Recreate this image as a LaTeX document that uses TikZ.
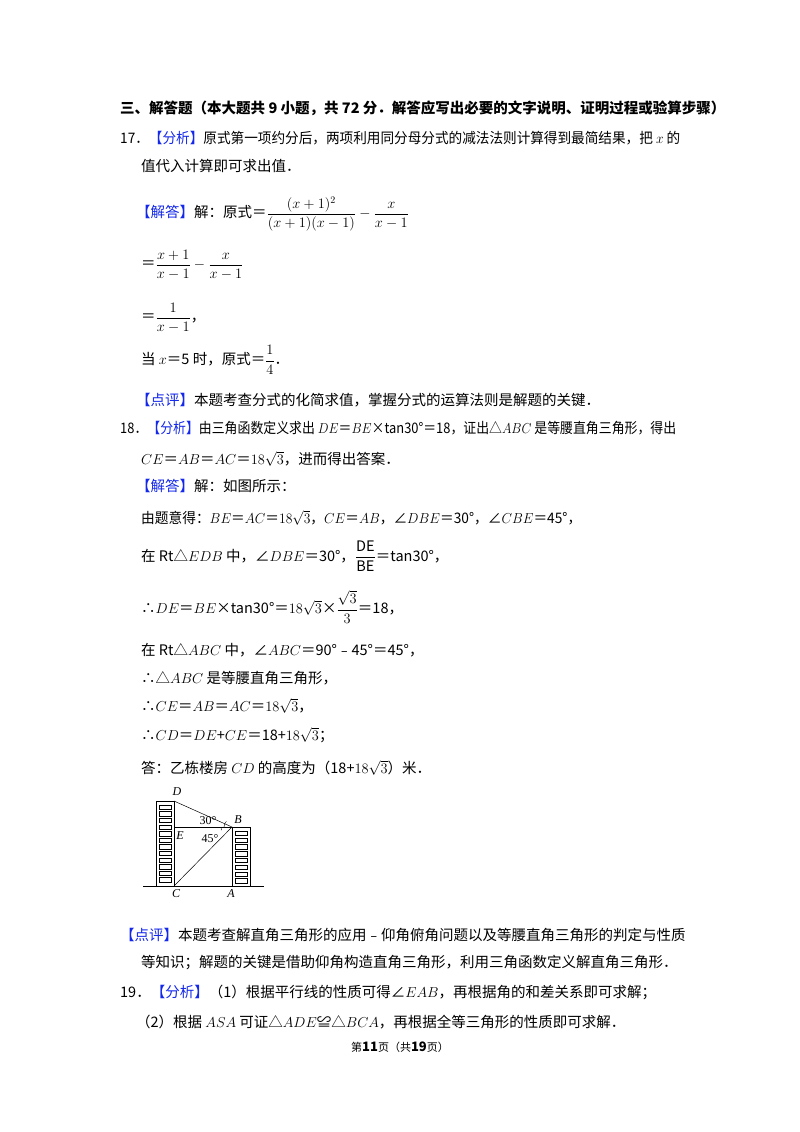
\documentclass[tikz,border=0pt]{standalone}
\usepackage{amsmath}
\usepackage{graphicx}
\usepackage{fontspec}
\setmainfont{Noto Sans CJK SC}
\newfontfamily\serf{Liberation Serif}
\definecolor{tag}{RGB}{20,40,235}
\newcommand{\tg}[1]{\textcolor{tag}{#1}}
\newcommand{\rt}{18\sqrt{3}}
\newcommand{\fit}[2]{\resizebox{#1pt}{\height}{#2}}
\begin{document}
\begin{tikzpicture}[x=1pt,y=-1pt,
  ln/.style={anchor=west,inner sep=0pt,font=\fontsize{14.5}{17}\selectfont},
  lbl/.style={inner sep=0pt,font=\serf\itshape\fontsize{12}{12}\selectfont},
  bld/.style={draw,line width=0.8pt},
  win/.style={draw,line width=0.5pt}]
\useasboundingbox[fill=white] (0,0) rectangle (800,1132);
\node[ln,font=\bfseries\fontsize{14.5}{17}\selectfont] (l1) at (120,108) {三、解答题（本大题共 9 小题，共 72 分．解答应写出必要的文字说明、证明过程或验算步骤）};
\node[ln] (l2) at (120,138) {\fit{560}{17．\tg{【分析】}原式第一项约分后，两项利用同分母分式的减法法则计算得到最简结果，把 $x$ 的}};
\node[ln] (l3) at (141,166) {值代入计算即可求出值．};
\node[ln] (l4) at (136,214) {\tg{【解答】}解：原式＝$\dfrac{(x+1)^2}{(x+1)(x-1)}-\dfrac{x}{x-1}$};
\node[ln] (l5) at (141,265) {＝$\dfrac{x+1}{x-1}-\dfrac{x}{x-1}$};
\node[ln] (l6) at (141,318) {＝$\dfrac{1}{x-1}$，};
\node[ln] (l7) at (141,360) {当 $x$＝5 时，原式＝$\dfrac{1}{4}$．};
\node[ln] (l8) at (136,400) {\tg{【点评】}本题考查分式的化简求值，掌握分式的运算法则是解题的关键．};
\node[ln] (l9) at (120,428) {\fit{556}{18．\tg{【分析】}由三角函数定义求出 $DE$＝$BE$×tan30°＝18，证出△$ABC$ 是等腰直角三角形，得出}};
\node[ln] (l10) at (141,459) {$CE$＝$AB$＝$AC$＝$\rt$，进而得出答案．};
\node[ln] (l11) at (136,486) {\tg{【解答】}解：如图所示：};
\node[ln] (l12) at (141,518) {\fit{440}{由题意得：$BE$＝$AC$＝$\rt$，$CE$＝$AB$，∠$DBE$＝30°，∠$CBE$＝45°，}};
\node[ln] (l13) at (141,556) {在 Rt△$EDB$ 中，∠$DBE$＝30°，$\dfrac{\mathrm{DE}}{\mathrm{BE}}$＝tan30°，};
\node[ln] (l14) at (141,607) {∴$DE$＝$BE$×tan30°＝$\rt$×$\dfrac{\sqrt{3}}{3}$＝18，};
\node[ln] (l15) at (141,650) {在 Rt△$ABC$ 中，∠$ABC$＝90°﹣45°＝45°，};
\node[ln] (l16) at (141,678) {∴△$ABC$ 是等腰直角三角形，};
\node[ln] (l17) at (141,706) {∴$CE$＝$AB$＝$AC$＝$\rt$，};
\node[ln] (l18) at (141,735) {∴$CD$＝$DE$+$CE$＝18+$\rt$；};
\node[ln] (l19) at (141,768) {答：乙栋楼房 $CD$ 的高度为（18+$\rt$）米．};
% figure
\coordinate (g1) at (143,886); \coordinate (g2) at (264,886);
\draw[bld] (g1) -- (g2);
\draw[bld] (156,886) rectangle (174,801);
\draw[bld] (232,886) rectangle (250,827);
\foreach \i in {0,...,11} \draw[win] (159,{805+\i*6.6}) rectangle (171,{809.5+\i*6.6});
\foreach \i in {0,...,7} \draw[win] (235,{831+\i*6.8}) rectangle (247,{835.5+\i*6.8});
\coordinate (D) at (174,801); \coordinate (E) at (174,827);
\coordinate (B) at (232,827); \coordinate (C) at (174,886); \coordinate (A) at (232,886);
\draw[line width=0.5pt] (D) -- (B) -- (C);
\draw[line width=0.9pt] (E) -- (B);
\draw[line width=0.4pt] ([shift={(180:11)}]B) arc (180:163:11);
\draw[line width=0.4pt] ([shift={(180:8)}]B) arc (180:225:8);
\node[lbl] (tD) at (177,792) {D};
\node[lbl] (tB) at (238,820) {B};
\node[lbl] (tE) at (180,836) {E};
\node[lbl,font=\serf\fontsize{12}{12}\selectfont] (t30) at (208,821) {30°};
\node[lbl,font=\serf\fontsize{12}{12}\selectfont] (t45) at (210,839) {45°};
\node[lbl] (tC) at (176,894) {C};
\node[lbl] (tA) at (231,894) {A};
\node[ln] (l20) at (120,935) {\tg{【点评】}本题考查解直角三角形的应用﹣仰角俯角问题以及等腰直角三角形的判定与性质};
\node[ln] (l21) at (141,963) {等知识；解题的关键是借助仰角构造直角三角形，利用三角函数定义解直角三角形．};
\node[ln] (l22) at (120,992) {19．\tg{【分析】}（1）根据平行线的性质可得∠$EAB$，再根据角的和差关系即可求解；};
\node[ln] (l23) at (136,1022) {（2）根据 $ASA$ 可证△$ADE$≌△$BCA$，再根据全等三角形的性质即可求解．};
\node[inner sep=0pt,font=\fontsize{11}{12}\selectfont] (ft) at (400,1047) {第\textbf{\fontsize{13}{13}\selectfont 11}页（共\textbf{\fontsize{13}{13}\selectfont 19}页）};
\end{tikzpicture}
\end{document}
